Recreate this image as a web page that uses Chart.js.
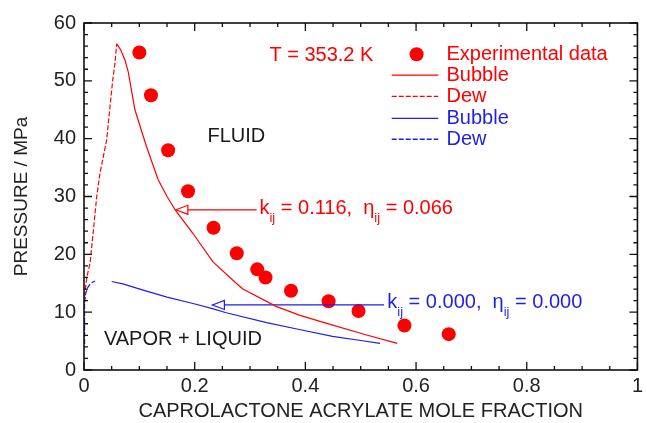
<!DOCTYPE html>
<html>
<head>
<meta charset="utf-8">
<script src="https://cdn.jsdelivr.net/npm/chart.js@4/dist/chart.umd.min.js"></script>
<style>
    html, body { margin: 0; padding: 0; background: #fff; }
    #wrap { width: 647px; height: 423px; }
</style>
</head>
<body>
<div id="wrap"><canvas id="grafico"></canvas></div>
<script>
// experimental points
const expX = [0.100, 0.121, 0.152, 0.188, 0.234, 0.276, 0.313, 0.328, 0.374, 0.442, 0.496, 0.579, 0.659];
const expP = [54.9, 47.5, 38.0, 30.9, 24.6, 20.2, 17.4, 16.0, 13.7, 11.9, 10.2, 7.7, 6.2];

// k = 0.116, eta = 0.066 (red)
const redDewX = [0.000, 0.002, 0.005, 0.011, 0.017, 0.023, 0.029, 0.041, 0.047, 0.052, 0.056, 0.059];
const redDewP = [11.5, 13.5, 16.0, 18.5, 24.2, 30.0, 34.1, 39.8, 45.6, 50.2, 53.1, 56.4];
const redBubbleX = [0.059, 0.066, 0.074, 0.080, 0.092, 0.113, 0.134, 0.150, 0.166, 0.197, 0.233, 0.275, 0.287, 0.347, 0.389, 0.437, 0.509, 0.566];
const redBubbleP = [56.4, 55.4, 53.6, 51.5, 45.0, 38.6, 32.9, 30.0, 27.5, 23.6, 18.7, 15.0, 14.0, 11.0, 9.5, 8.1, 6.1, 4.6];

// k = 0.000, eta = 0.000 (blue)
const blueDewX = [0.001, 0.001, 0.003, 0.007, 0.012, 0.020];
const blueDewP = [4.5, 11.5, 13.2, 14.3, 15.0, 15.4];
const blueBubbleX = [0.050, 0.070, 0.107, 0.150, 0.197, 0.232, 0.257, 0.330, 0.389, 0.449, 0.500, 0.535];
const blueBubbleP = [15.3, 14.9, 13.8, 12.6, 11.5, 10.6, 9.9, 8.2, 7.0, 5.8, 5.1, 4.6];

// arrows pointing at the curves
const redArrowX = [0.312, 0.166];
const redArrowP = [27.7, 27.7];
const blueArrowX = [0.542, 0.232];
const blueArrowP = [11.25, 11.25];

const xTicks = [0, 0.2, 0.4, 0.6, 0.8, 1];
const yTicks = [0, 10, 20, 30, 40, 50, 60];

const RED = '#ff0000';
const BLUE = '#1f1fe6';
const FONT = '"Liberation Sans", Arial, sans-serif';

const pts = (xs, ys) => xs.map((v, i) => ({ x: v, y: ys[i] }));

const curva = (xs, ys, color, dash) => ({
    data: pts(xs, ys),
    showLine: true,
    borderColor: color,
    borderWidth: 1.2,
    borderDash: dash || [],
    pointRadius: 0,
    tension: 0
});

function drawCoef(ctx, px, py, color, k, eta) {
    ctx.fillStyle = color;
    ctx.textBaseline = 'middle';
    ctx.textAlign = 'left';
    let cx = px;
    const parts = [['k', 0], ['ij', 1], [' = ' + k + ',  ', 0], ['\u03b7', 0], ['ij', 1], [' = ' + eta, 0]];
    for (const [t, sub] of parts) {
        ctx.font = (sub ? '13px ' : '20px ') + FONT;
        ctx.fillText(t, cx, sub ? py + 10 : py);
        cx += ctx.measureText(t).width;
    }
}

function arrowHead(ctx, tipX, tipY, color) {
    ctx.beginPath();
    ctx.moveTo(tipX, tipY);
    ctx.lineTo(tipX + 12, tipY - 4.5);
    ctx.lineTo(tipX + 12, tipY + 4.5);
    ctx.closePath();
    ctx.fillStyle = '#fff';
    ctx.fill();
    ctx.strokeStyle = color;
    ctx.lineWidth = 1.2;
    ctx.stroke();
}

const overlay = {
    id: 'overlay',
    afterDatasetsDraw(chart) {
        const ctx = chart.ctx;
        const x = chart.scales.x, y = chart.scales.y;
        const L = x.getPixelForValue(0), R = x.getPixelForValue(1);
        const T = y.getPixelForValue(60), B = y.getPixelForValue(0);
        ctx.save();
        ctx.setLineDash([]);

        // frame
        ctx.strokeStyle = '#111';
        ctx.lineWidth = 1.6;
        ctx.strokeRect(L, T, R - L, B - T);

        // inward ticks on all four sides
        ctx.lineWidth = 1.3;
        ctx.beginPath();
        for (let i = 0; i <= 20; i++) {
            const px = x.getPixelForValue(i * 0.05);
            const len = i % 4 === 0 ? 8 : 4;
            ctx.moveTo(px, B); ctx.lineTo(px, B - len);
            ctx.moveTo(px, T); ctx.lineTo(px, T + len);
        }
        for (let i = 0; i <= 30; i++) {
            const py = y.getPixelForValue(i * 2);
            const len = i % 5 === 0 ? 8 : 4;
            ctx.moveTo(L, py); ctx.lineTo(L + len, py);
            ctx.moveTo(R, py); ctx.lineTo(R - len, py);
        }
        ctx.stroke();

        // arrow heads
        arrowHead(ctx, x.getPixelForValue(redArrowX[1]), y.getPixelForValue(redArrowP[1]), RED);
        arrowHead(ctx, x.getPixelForValue(blueArrowX[1]), y.getPixelForValue(blueArrowP[1]), BLUE);

        // region labels
        ctx.textBaseline = 'middle';
        ctx.textAlign = 'left';
        ctx.font = '20px ' + FONT;
        ctx.fillStyle = '#1a1a1a';
        ctx.fillText('FLUID', x.getPixelForValue(0.223), y.getPixelForValue(40.3));
        ctx.fillText('VAPOR + LIQUID', x.getPixelForValue(0.036), y.getPixelForValue(5.2));
        ctx.fillStyle = RED;
        ctx.fillText('T = 353.2 K', x.getPixelForValue(0.335), y.getPixelForValue(54.4));

        drawCoef(ctx, x.getPixelForValue(0.317), y.getPixelForValue(28.0), RED, '0.116', '0.066');
        drawCoef(ctx, x.getPixelForValue(0.548), y.getPixelForValue(11.6), BLUE, '0.000', '0.000');

        // legend
        const lx0 = x.getPixelForValue(0.556), lx1 = x.getPixelForValue(0.640), tx = x.getPixelForValue(0.655);
        const rows = [
            ['Experimental data', RED, null, 54.6],
            ['Bubble', RED, [], 51.0],
            ['Dew', RED, [5, 2], 47.3],
            ['Bubble', BLUE, [], 43.5],
            ['Dew', BLUE, [5, 2], 39.9]
        ];
        for (const [label, color, dash, p] of rows) {
            const py = y.getPixelForValue(p);
            if (dash === null) {
                ctx.beginPath();
                ctx.arc(x.getPixelForValue(0.601), py, 7, 0, Math.PI * 2);
                ctx.fillStyle = color;
                ctx.fill();
            } else {
                ctx.beginPath();
                ctx.setLineDash(dash);
                ctx.strokeStyle = color;
                ctx.lineWidth = 1.3;
                ctx.moveTo(lx0, py); ctx.lineTo(lx1, py);
                ctx.stroke();
                ctx.setLineDash([]);
            }
            ctx.fillStyle = color;
            ctx.fillText(label, tx, py);
        }
        ctx.restore();
    }
};

const ctx = document.getElementById('grafico').getContext('2d');
const grafico = new Chart(ctx, {
    type: 'scatter',
    data: {
        datasets: [
            curva(redDewX, redDewP, RED, [5, 2]),
            curva(redBubbleX, redBubbleP, RED),
            curva(blueDewX, blueDewP, BLUE, [5, 2]),
            curva(blueBubbleX, blueBubbleP, BLUE),
            curva(redArrowX, redArrowP, RED),
            curva(blueArrowX, blueArrowP, BLUE),
            {
                label: 'Experimental data',
                data: pts(expX, expP),
                backgroundColor: RED,
                borderWidth: 0,
                pointRadius: 7
            }
        ]
    },
    options: {
        responsive: true,
        maintainAspectRatio: false,
        animation: false,
        layout: { padding: { left: 0, top: 23, right: 7, bottom: 0 } },
        plugins: {
            legend: { display: false },
            tooltip: { enabled: false }
        },
        scales: {
            x: {
                type: 'linear',
                min: 0,
                max: 1,
                afterBuildTicks: s => { s.ticks = xTicks.map(v => ({ value: v })); },
                afterFit: s => { s.height = 53; },
                grid: { display: false, drawTicks: false },
                border: { display: false },
                ticks: {
                    padding: 4,
                    color: '#222',
                    font: { family: FONT, size: 20 },
                    callback: v => String(parseFloat(v.toFixed(1)))
                },
                title: {
                    display: true,
                    text: 'CAPROLACTONE ACRYLATE MOLE FRACTION',
                    color: '#222',
                    font: { family: FONT, size: 20 },
                    padding: { top: 1, bottom: 0 }
                }
            },
            y: {
                type: 'linear',
                min: 0,
                max: 60,
                afterBuildTicks: s => { s.ticks = yTicks.map(v => ({ value: v })); },
                afterFit: s => { s.width = 84; },
                grid: { display: false, drawTicks: false },
                border: { display: false },
                ticks: {
                    padding: 8,
                    color: '#222',
                    font: { family: FONT, size: 20 }
                },
                title: {
                    display: true,
                    text: 'PRESSURE / MPa',
                    color: '#222',
                    font: { family: FONT, size: 19 },
                    padding: { top: 10, bottom: 0 }
                }
            }
        }
    },
    plugins: [overlay]
});
</script>
</body>
</html>
